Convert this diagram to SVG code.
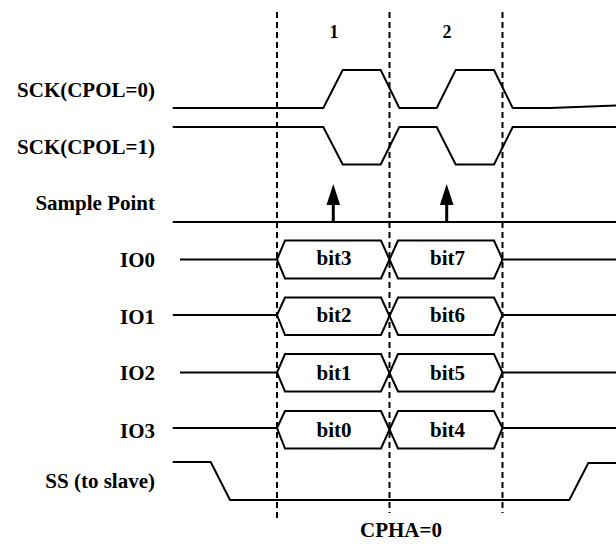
<svg xmlns="http://www.w3.org/2000/svg" width="616" height="552" viewBox="0 0 616 552">
<style>
text{font-family:"Liberation Serif","Times New Roman",serif;font-weight:bold;font-size:21px;fill:#000}
.lbl{text-anchor:end}
.mid{text-anchor:middle}
.num{font-size:18px;text-anchor:middle}
.w{fill:none;stroke:#000;stroke-width:2;stroke-linejoin:miter}
.dash{fill:none;stroke:#000;stroke-width:2;stroke-dasharray:6 4}
.bus{fill:none;stroke:#000;stroke-width:2}
</style>
<rect width="616" height="552" fill="#fff"/>
<g id="labels">
<text class="lbl" x="155" y="97">SCK(CPOL=0)</text>
<text class="lbl" x="155" y="154">SCK(CPOL=1)</text>
<text class="lbl" x="155" y="210">Sample Point</text>
<text class="lbl" x="155" y="267">IO0</text>
<text class="lbl" x="155" y="324">IO1</text>
<text class="lbl" x="155" y="380">IO2</text>
<text class="lbl" x="155" y="438">IO3</text>
<text class="lbl" x="155" y="488">SS (to slave)</text>
<text class="num" x="334" y="38">1</text>
<text class="num" x="447" y="38">2</text>
<text class="mid" x="401" y="537">CPHA=0</text>
</g>
<g id="sck0"><path class="w" d="M172.7,108H323.3L342.7,70H380.7L399.3,108H436.7L455.7,70H494L512.7,108H550L616,105.5"/></g>
<g id="sck1"><path class="w" d="M172.7,127H323.3L342.7,164.5H380.7L399.3,127H436.7L455.7,164.5H494L512.7,127H616"/></g>
<g id="sample">
<path class="w" d="M172.7,222H616"/>
<path d="M333.3,222V203" stroke="#000" stroke-width="3"/>
<polygon points="333.3,184 326.5,205 340.1,205" fill="#000"/>
<path d="M446.7,222V203" stroke="#000" stroke-width="3"/>
<polygon points="446.7,184 439.9,205 453.5,205" fill="#000"/>
</g>
<g id="io0">
<path class="w" d="M180,259.5H277M502.5,259.5H616"/>
<polygon class="bus" points="277,259.5 285,240.5 381,240.5 389.5,259.5 381,278.5 285,278.5"/>
<polygon class="bus" points="389.5,259.5 398,240.5 494,240.5 502.5,259.5 494,278.5 398,278.5"/>
<text class="mid" x="334" y="265">bit3</text>
<text class="mid" x="447.5" y="265">bit7</text>
</g>
<g id="io1">
<path class="w" d="M172.7,315H277M502.5,315H616"/>
<polygon class="bus" points="277,315 285,297.5 381,297.5 389.5,316 381,335 285,335"/>
<polygon class="bus" points="389.5,316 398,297.5 494,297.5 502.5,315 494,335 398,335"/>
<text class="mid" x="334" y="322">bit2</text>
<text class="mid" x="447.5" y="322">bit6</text>
</g>
<g id="io2">
<path class="w" d="M180,372.5H277M502.5,372.5H616"/>
<polygon class="bus" points="277,372.5 285,354 381,354 389.5,373 381,391.5 285,391.5"/>
<polygon class="bus" points="389.5,373 398,354 494,354 502.5,372.5 494,391.5 398,391.5"/>
<text class="mid" x="334" y="380">bit1</text>
<text class="mid" x="447.5" y="380">bit5</text>
</g>
<g id="io3">
<path class="w" d="M172.7,428H277M502.5,428H616"/>
<polygon class="bus" points="277,428 285,411 381,411 389.5,429.5 381,448.5 285,448.5"/>
<polygon class="bus" points="389.5,429.5 398,411 494,411 502.5,428 494,448.5 398,448.5"/>
<text class="mid" x="334" y="437">bit0</text>
<text class="mid" x="447.5" y="437">bit4</text>
</g>
<g id="ss"><path class="w" d="M172.7,462H210.7L230,500H569.3L588.3,463H616"/></g>
<g id="connectors">
<path class="dash" d="M277,12V519"/>
<path class="dash" d="M389.5,12V513"/>
<path class="dash" d="M502.5,12V513"/>
</g>
</svg>
